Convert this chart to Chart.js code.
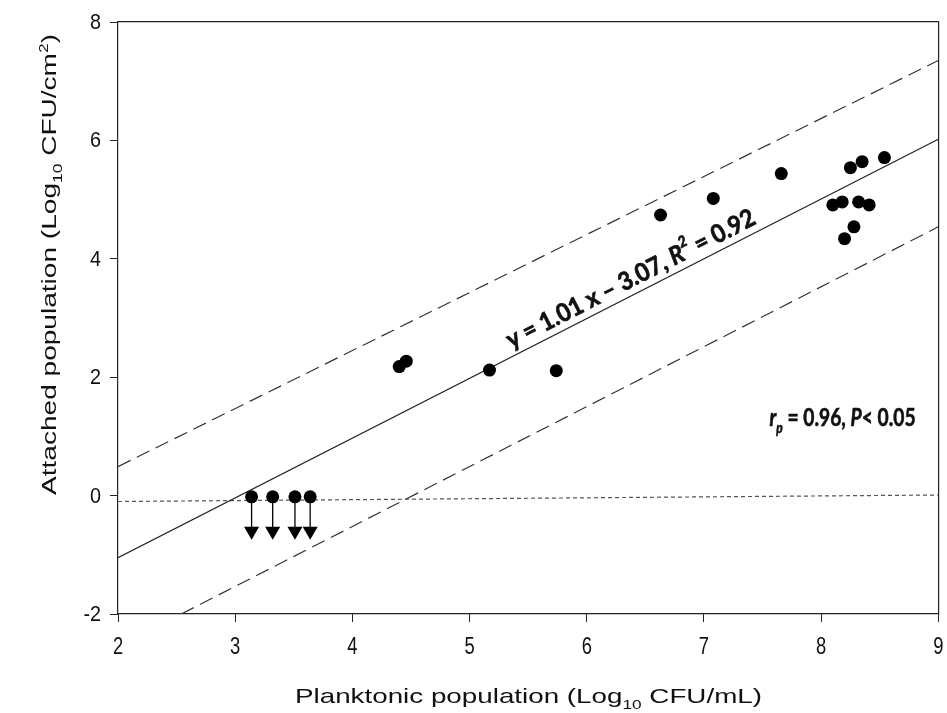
<!DOCTYPE html>
<html>
<head>
<meta charset="utf-8">
<script src="https://cdn.jsdelivr.net/npm/chart.js@4/dist/chart.umd.min.js"></script>
<style>
  html, body { margin: 0; padding: 0; background: #fff; }
  #wrap { width: 947px; height: 713px; position: relative; }
</style>
</head>
<body>
<div id="wrap"><canvas id="c" width="947" height="713"></canvas></div>
<script>
// ---- data ----
const detectedX = [4.40, 4.46, 5.17, 5.74, 6.63, 7.08, 7.66, 8.25, 8.35, 8.54, 8.10, 8.18, 8.32, 8.41, 8.28, 8.20];
const detectedY = [2.18, 2.27, 2.12, 2.11, 4.74, 5.02, 5.44, 5.54, 5.64, 5.71, 4.91, 4.96, 4.96, 4.91, 4.54, 4.34];
const censoredX = [3.14, 3.32, 3.51, 3.64];
const censoredY = [-0.02, -0.02, -0.02, -0.02];
const arrowTipY = [-0.60, -0.60, -0.60, -0.60];
const regSlope = 1.01;
const regIntercept = -3.07;
const regX = [2, 9];
const upperBandX = [2, 9];
const upperBandY = [0.49, 7.35];
const lowerBandX = [2.54, 9];
const lowerBandY = [-2, 4.54];
const limitX = [2, 9];
const limitY = [-0.10, 0.01];
const xTicks = [2, 3, 4, 5, 6, 7, 8, 9];
const yTicks = [-2, 0, 2, 4, 6, 8];
const eqText = 'y = 1.01 x \u2013 3.07, ';
const eqR2 = ['R', '2', ' = 0.92'];
const corrText = ['r', 'p', ' = 0.96, ', 'P', '< 0.05'];
const xTitleRuns = [['Planktonic population (Log', 'n'], ['10', 'sub'], [' CFU/mL)', 'n']];
const yTitleRuns = [['Attached population (Log', 'n'], ['10', 'sub'], [' CFU/cm', 'n'], ['2', 'sup'], [')', 'n']];

const pts = (xs, ys) => xs.map((x, i) => ({ x: x, y: ys[i] }));
const arrowData = [];
censoredX.forEach((x, i) => {
  arrowData.push({ x: x, y: censoredY[i] }, { x: x, y: arrowTipY[i] }, { x: x, y: null });
});

const TICK_FONT = "'Liberation Sans', Arial, sans-serif";
const TITLE_FONT = "'Liberation Sans', Arial, sans-serif";
const BOLD_FONT = "Lato, 'Open Sans', sans-serif";

function drawRuns(ctx, runs, size, family, weightFor, targetW, strokeW) {
  const fontFor = (kind, idx) => {
    const sz = kind === 'n' ? size : size * 0.62;
    const st = weightFor ? weightFor(idx) : '';
    return st + ' ' + sz + 'px ' + family;
  };
  let total = 0;
  const widths = runs.map((r, i) => { ctx.font = fontFor(r[1], i); const w = ctx.measureText(r[0]).width; total += w; return w; });
  const sx = targetW ? targetW / total : 1;
  ctx.save();
  ctx.scale(sx, 1);
  let x = 0;
  runs.forEach((r, i) => {
    ctx.font = fontFor(r[1], i);
    let dy = 0;
    if (r[1] === 'sub') dy = size * 0.28;
    if (r[1] === 'sup') dy = -size * 0.38;
    ctx.fillText(r[0], x, dy);
    if (strokeW) { ctx.lineWidth = strokeW; ctx.strokeStyle = ctx.fillStyle; ctx.strokeText(r[0], x, dy); }
    x += widths[i];
  });
  ctx.restore();
  return total * sx;
}

// tick labels drawn condensed like the reference
const tickPlugin = {
  id: 'condensedTicks',
  afterDraw(chart) {
    const ctx = chart.ctx;
    const xs = chart.scales.x, ys = chart.scales.y;
    ctx.save();
    ctx.fillStyle = '#111';
    ctx.font = '23px ' + TICK_FONT;
    ctx.textAlign = 'center';
    ctx.textBaseline = 'alphabetic';
    xTicks.forEach(v => {
      ctx.save();
      ctx.translate(xs.getPixelForValue(v), 654);
      ctx.scale(0.8, 1);
      ctx.fillText(String(v), 0, 0);
      ctx.restore();
    });
    ctx.textAlign = 'right';
    ctx.textBaseline = 'middle';
    ctx.font = '22px ' + TICK_FONT;
    yTicks.forEach(v => {
      ctx.save();
      ctx.translate(101, ys.getPixelForValue(v) + 1);
      ctx.scale(0.9, 1);
      ctx.fillText(String(v), 0, 0);
      ctx.restore();
    });
    ctx.restore();
  }
};

const textPlugin = {
  id: 'texts',
  afterDraw(chart) {
    const ctx = chart.ctx;
    const xs = chart.scales.x, ys = chart.scales.y;
    ctx.save();
    ctx.fillStyle = '#111';
    ctx.textBaseline = 'alphabetic';
    ctx.textAlign = 'left';
    // x title
    ctx.save();
    ctx.translate(295, 703);
    drawRuns(ctx, xTitleRuns, 21, TITLE_FONT, null, 467);
    ctx.restore();
    // y title
    ctx.save();
    ctx.translate(56, 495);
    ctx.rotate(-Math.PI / 2);
    drawRuns(ctx, yTitleRuns, 21, TITLE_FONT, null, 461);
    ctx.restore();
    // equation text along regression line
    const x0 = xs.getPixelForValue(2), y0 = ys.getPixelForValue(regSlope * 2 + regIntercept);
    const x1 = xs.getPixelForValue(9), y1 = ys.getPixelForValue(regSlope * 9 + regIntercept);
    const ang = Math.atan2(y1 - y0, x1 - x0);
    const cx = xs.getPixelForValue(6.375), cy = ys.getPixelForValue(3.66);
    ctx.save();
    ctx.translate(cx, cy);
    ctx.rotate(ang);
    ctx.textBaseline = 'middle';
    const eqRuns = [[eqText, 'n'], [eqR2[0], 'n'], [eqR2[1], 'sup'], [eqR2[2], 'n']];
    const target = 276;
    ctx.translate(-target / 2, 0);
    drawRuns(ctx, eqRuns, 25, BOLD_FONT, (i) => (i === 1 || i === 2) ? 'italic bold' : 'bold', target, 0.7);
    ctx.restore();
    // correlation text
    ctx.save();
    ctx.translate(xs.getPixelForValue(7.56), ys.getPixelForValue(1.17));
    const cRuns = [[corrText[0], 'n'], [corrText[1], 'sub'], [corrText[2], 'n'], [corrText[3], 'n'], [corrText[4], 'n']];
    drawRuns(ctx, cRuns, 24, BOLD_FONT, (i) => (i === 0 || i === 1 || i === 3) ? 'italic bold' : 'bold', 146, 0.6);
    ctx.restore();
    ctx.restore();
  }
};

const axisCommon = {
  type: 'linear',
  grid: { display: true, drawOnChartArea: false, drawTicks: true, tickLength: 8, color: '#222', lineWidth: 1 },
  border: { display: true, color: '#222', width: 1.2 },
};

new Chart(document.getElementById('c'), {
  type: 'scatter',
  data: {
    datasets: [
      { label: 'detected', data: pts(detectedX, detectedY), pointRadius: 6.5, pointHoverRadius: 6.5,
        backgroundColor: '#000', borderColor: '#000', borderWidth: 0, showLine: false },
      { label: 'censored', data: pts(censoredX, censoredY), pointRadius: 6.5, pointHoverRadius: 6.5,
        backgroundColor: '#000', borderColor: '#000', borderWidth: 0, showLine: false },
      { label: 'arrowheads', data: pts(censoredX, arrowTipY), pointStyle: 'triangle', rotation: 180,
        pointRadius: 8.7, backgroundColor: '#000', borderColor: '#000', borderWidth: 0, showLine: false },
      { label: 'arrows', data: arrowData, showLine: true, spanGaps: false, pointRadius: 0,
        borderColor: '#000', borderWidth: 1.3 },
      { label: 'regression', data: regX.map(x => ({ x: x, y: regSlope * x + regIntercept })), showLine: true,
        pointRadius: 0, borderColor: '#222', borderWidth: 1.2 },
      { label: 'upper', data: pts(upperBandX, upperBandY), showLine: true, pointRadius: 0,
        borderColor: '#333', borderWidth: 1.2, borderDash: [14, 7] },
      { label: 'lower', data: pts(lowerBandX, lowerBandY), showLine: true, pointRadius: 0,
        borderColor: '#333', borderWidth: 1.2, borderDash: [14, 7] },
      { label: 'limit', data: pts(limitX, limitY), showLine: true, pointRadius: 0,
        borderColor: '#555', borderWidth: 1.2, borderDash: [4, 3] },
    ]
  },
  options: {
    responsive: false,
    animation: false,
    events: [],
    layout: { padding: { top: 22, right: 0, left: 0, bottom: 0 } },
    plugins: { legend: { display: false }, tooltip: { enabled: false } },
    scales: {
      x: Object.assign({}, axisCommon, {
        position: 'bottom', min: 2, max: 9,
        afterBuildTicks: (s) => { s.ticks = xTicks.map(v => ({ value: v })); },
        afterFit: (s) => { s.height = 99; s.paddingRight = 0; s.paddingLeft = 0; },
        ticks: { display: false, maxRotation: 0 }
      }),
      y: Object.assign({}, axisCommon, {
        position: 'left', min: -2, max: 8,
        afterBuildTicks: (s) => { s.ticks = yTicks.map(v => ({ value: v })); },
        afterFit: (s) => { s.width = 118; s.paddingTop = 0; s.paddingBottom = 0; },
        ticks: { display: false }
      }),
      xTop: { type: 'linear', position: 'top', min: 2, max: 9, grid: { display: false },
        ticks: { display: false }, border: { display: true, color: '#222', width: 1.2 },
        afterFit: (s) => { s.height = 0; } },
      yRight: { type: 'linear', position: 'right', min: -2, max: 8, grid: { display: false },
        ticks: { display: false }, border: { display: true, color: '#222', width: 1.2 },
        afterFit: (s) => { s.width = 8; } }
    }
  },
  plugins: [tickPlugin, textPlugin]
});
</script>
</body>
</html>
